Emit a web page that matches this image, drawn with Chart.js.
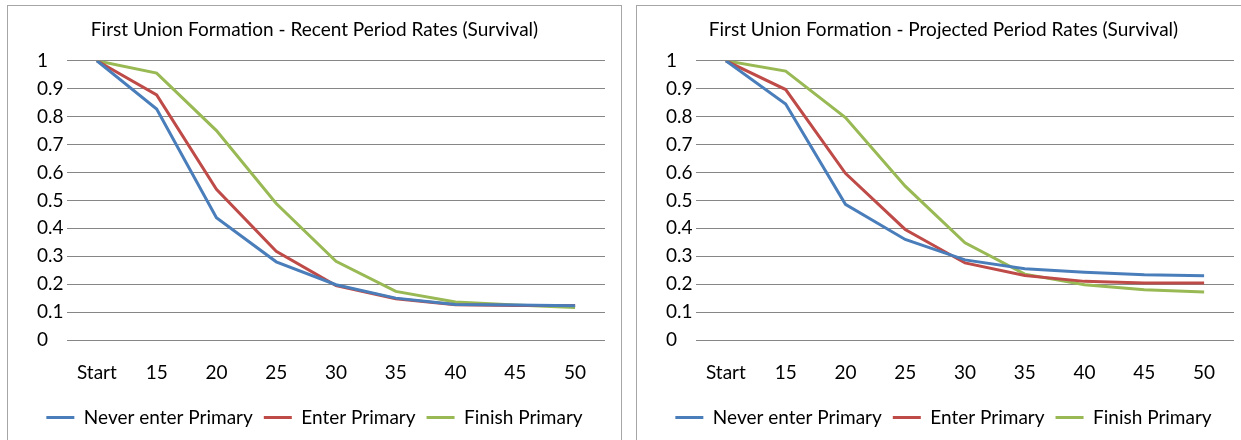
<!DOCTYPE html>
<html>
<head>
<meta charset="utf-8">
<script src="https://cdn.jsdelivr.net/npm/chart.js@4.4.0/dist/chart.umd.min.js"></script>
<style>
  body { margin: 0; background: #fff; width: 1241px; height: 440px; overflow: hidden; position: relative; }
  .box { position: absolute; top: 5px; width: 613px; height: 440px; border: 1px solid #a6a6a6; background: #fff; }
  #boxA { left: 7px; }
  #boxB { left: 636px; }
  canvas { display: block; }
</style>
</head>
<body>
<div class="box" id="boxA"><canvas id="recent" width="613" height="434"></canvas></div>
<div class="box" id="boxB"><canvas id="projected" width="613" height="434"></canvas></div>
<script>
const categories = ['Start', '15', '20', '25', '30', '35', '40', '45', '50'];
const seriesNames = ['Never enter Primary', 'Enter Primary', 'Finish Primary'];
const yTicks = [0, 0.1, 0.2, 0.3, 0.4, 0.5, 0.6, 0.7, 0.8, 0.9, 1];

const recentNever  = [1, 0.827, 0.438, 0.280, 0.198, 0.150, 0.127, 0.125, 0.123];
const recentEnter  = [1, 0.878, 0.540, 0.318, 0.195, 0.148, 0.126, 0.124, 0.124];
const recentFinish = [1, 0.956, 0.750, 0.489, 0.282, 0.174, 0.136, 0.125, 0.116];

const projNever  = [1, 0.845, 0.486, 0.360, 0.287, 0.255, 0.243, 0.234, 0.230];
const projEnter  = [1, 0.897, 0.597, 0.396, 0.276, 0.231, 0.210, 0.204, 0.204];
const projFinish = [1, 0.963, 0.797, 0.551, 0.348, 0.236, 0.198, 0.180, 0.172];

const colors = ['#4A7EBB', '#BE4B48', '#98B954'];

Chart.defaults.font.family = 'Lato';
Chart.defaults.font.size = 19;
Chart.defaults.color = '#000';

// y labels sit left-aligned a bit inside the frame, title/legend stay centred
const shiftYLabels = {
  id: 'shiftYLabels',
  afterLayout(chart) { chart.scales.y.left += 13; },
};

function makeChart(id, title, values) {
  const ctx = document.getElementById(id);
  return new Chart(ctx, {
    type: 'line',
    data: {
      labels: categories,
      datasets: values.map((v, i) => ({
        label: seriesNames[i],
        data: v,
        borderColor: colors[i],
        backgroundColor: colors[i],
        borderWidth: 3,
        pointRadius: 0,
        tension: 0,
      })),
    },
    options: {
      responsive: false,
      animation: false,
      layout: { padding: { left: 16, right: 16, top: 0, bottom: 3 } },
      plugins: {
        title: {
          display: true,
          text: title,
          font: { size: 19, weight: 'normal' },
          color: '#000',
          padding: { top: 12, bottom: 20 },
        },
        legend: {
          position: 'bottom',
          labels: { boxWidth: 28, boxHeight: 0, padding: 11 },
        },
        tooltip: { enabled: false },
      },
      scales: {
        x: {
          offset: true,
          grid: { display: false, drawTicks: false },
          border: { display: false },
          ticks: { padding: 21, autoSkip: false, maxRotation: 0 },
          afterFit: (axis) => { axis.height = 57; },
        },
        y: {
          min: 0,
          max: 1,
          afterBuildTicks: (axis) => { axis.ticks = yTicks.map(v => ({ value: v })); },
          grid: { color: '#868686', drawTicks: false },
          border: { display: false },
          ticks: {
            crossAlign: 'far',
            callback: (v) => String(Number(v.toFixed(1))),
          },
          afterFit: (axis) => { axis.width = 43; },
        },
      },
    },
    plugins: [shiftYLabels],
  });
}

makeChart('recent', 'First Union Formation - Recent Period Rates (Survival)', [recentNever, recentEnter, recentFinish]);
makeChart('projected', 'First Union Formation - Projected Period Rates (Survival)', [projNever, projEnter, projFinish]);
</script>
</body>
</html>
